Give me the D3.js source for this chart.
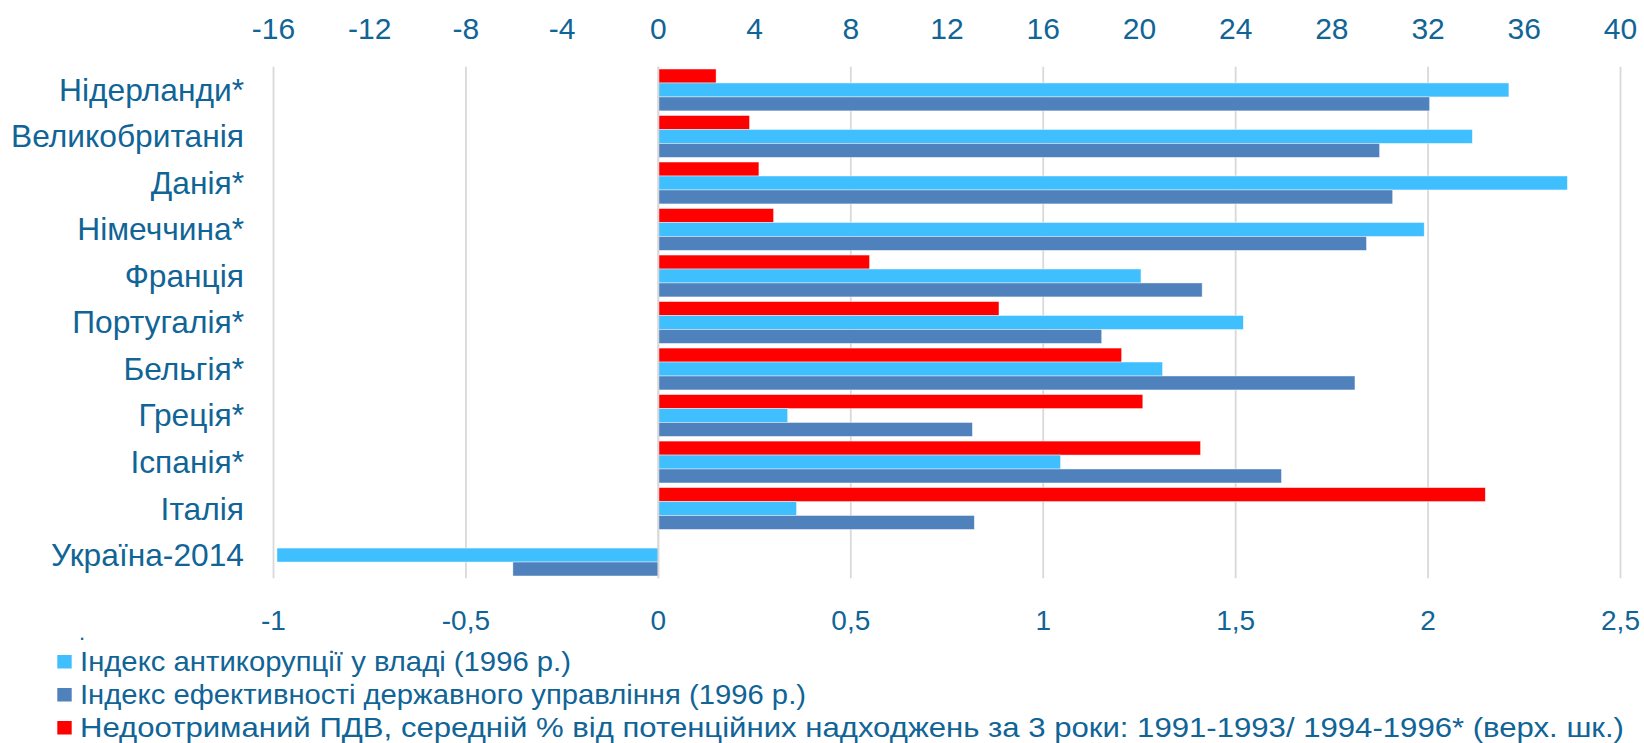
<!DOCTYPE html>
<html>
<head>
<meta charset="utf-8">
<script src="https://cdn.jsdelivr.net/npm/d3@7"></script>
<style>
  body { margin: 0; background: #fff; }
  text { font-family: "Liberation Sans", Arial, sans-serif; fill: #106496; }
</style>
</head>
<body>
<div id="chart"></div>
<script>
let countries = ["Нідерланди*", "Великобританія", "Данія*", "Німеччина*", "Франція", "Португалія*",
                 "Бельгія*", "Греція*", "Іспанія*", "Італія", "Україна-2014"]

// upper scale, %
let vatGap = [2.4, 3.79, 4.18, 4.79, 8.78, 14.16, 19.26, 20.14, 22.54, 34.38, null]
// lower scale
let antiCorruption = [2.21, 2.115, 2.362, 1.99, 1.254, 1.52, 1.31, 0.336, 1.045, 0.359, -0.991]
let govEffect = [2.004, 1.874, 1.908, 1.84, 1.413, 1.152, 1.81, 0.816, 1.619, 0.821, -0.378]

let topTicks = [-16, -12, -8, -4, 0, 4, 8, 12, 16, 20, 24, 28, 32, 36, 40]
let bottomTicks = [-1, -0.5, 0, 0.5, 1, 1.5, 2, 2.5]

let legendNames = ["Індекс антикорупції у владі (1996 р.)",
                   "Індекс ефективності державного управління (1996 р.)",
                   "Недоотриманий ПДВ, середній % від потенційних надходжень за 3 роки: 1991-1993/ 1994-1996* (верх. шк.)"]

let width = 1644
let height = 743
let plotLeft = 273.5
let plotRight = 1620.5
let plotTop = 66.7
let plotBottom = 578.3

let colors = { vat: "#FF0000", anti: "#40BFFF", gov: "#4F81BD" }

let svg = d3.select("#chart")
    .append("svg")
    .attr("width", width)
    .attr("height", height)

let xTop = d3.scaleLinear().domain([-16, 40]).range([plotLeft, plotRight])
let xBottom = d3.scaleLinear().domain([-1, 2.5]).range([plotLeft, plotRight])

let y = d3.scaleBand()
    .domain(countries)
    .range([plotTop, plotBottom])
    .paddingInner(0.1)
    .paddingOuter(0.05)

let ySub = d3.scaleBand()
    .domain(["vat", "anti", "gov"])
    .range([0, y.bandwidth()])

// gridlines at the lower-axis ticks
svg.append("g").attr("class", "grid")
    .selectAll("line")
    .data(bottomTicks)
    .enter()
    .append("line")
    .attr("x1", d => xBottom(d))
    .attr("x2", d => xBottom(d))
    .attr("y1", plotTop)
    .attr("y2", plotBottom)
    .attr("stroke", "#D9D9D9")
    .attr("stroke-width", 1.8)

let rows = countries.map(function(c, i){
    return { name: c, vat: vatGap[i], anti: antiCorruption[i], gov: govEffect[i] }
})

let groups = svg.selectAll("g.row")
    .data(rows)
    .enter()
    .append("g")
    .attr("class", "row")
    .attr("transform", d => `translate(0, ${y(d.name)})`)

function addBars(key, scale){
    groups.filter(d => d[key] !== null)
        .append("rect")
        .attr("x", d => scale(Math.min(0, d[key])))
        .attr("width", d => Math.abs(scale(d[key]) - scale(0)))
        .attr("y", ySub(key))
        .attr("height", ySub.bandwidth())
        .attr("fill", colors[key])
        .attr("stroke", "#fff")
        .attr("stroke-opacity", 0.6)
        .attr("stroke-width", 0.7)
}

addBars("vat", xTop)
addBars("anti", xBottom)
addBars("gov", xBottom)

// zero line
svg.append("line")
    .attr("x1", xBottom(0)).attr("x2", xBottom(0))
    .attr("y1", plotTop).attr("y2", plotBottom)
    .attr("stroke", "#D9D9D9")
    .attr("stroke-width", 1.8)

// category labels, a bit wider than the plain font
svg.append("g")
    .selectAll("text")
    .data(countries)
    .enter()
    .append("text")
    .attr("x", 244)
    .attr("y", d => y(d) + y.bandwidth() / 2)
    .attr("dy", "0.36em")
    .attr("text-anchor", "end")
    .attr("font-size", 30.5)
    .text(d => d)
    .each(function(){
        let len = this.getComputedTextLength()
        d3.select(this).attr("textLength", len * 1.04).attr("lengthAdjust", "spacingAndGlyphs")
    })

let fmt = d => String(d).replace(".", ",")

svg.append("g")
    .selectAll("text")
    .data(topTicks)
    .enter()
    .append("text")
    .attr("x", d => xTop(d))
    .attr("y", 39.3)
    .attr("text-anchor", "middle")
    .attr("font-size", 30)
    .text(d => fmt(d))

svg.append("g")
    .selectAll("text")
    .data(bottomTicks)
    .enter()
    .append("text")
    .attr("x", d => xBottom(d))
    .attr("y", 630)
    .attr("text-anchor", "middle")
    .attr("font-size", 28)
    .text(d => fmt(d))

// legend
svg.append("text")
    .attr("x", 79)
    .attr("y", 640)
    .attr("font-size", 22)
    .text(".")

let legendKeys = ["anti", "gov", "vat"]
let legendWidths = [491, 726, 1544]
let legend = svg.append("g").attr("class", "legend")
legendKeys.forEach(function(k, i){
    let base = 671 + i * 33
    legend.append("rect")
        .attr("x", 57.3)
        .attr("y", base - 16)
        .attr("width", 14.4)
        .attr("height", 13.5)
        .attr("fill", colors[k])
    legend.append("text")
        .attr("x", 80)
        .attr("y", base)
        .attr("font-size", 28)
        .attr("textLength", legendWidths[i])
        .attr("lengthAdjust", "spacingAndGlyphs")
        .text(legendNames[i])
})
</script>
</body>
</html>
